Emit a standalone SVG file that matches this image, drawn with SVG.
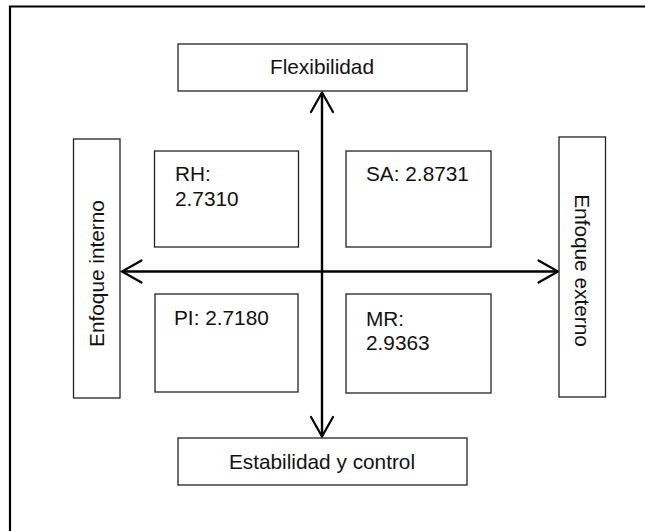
<svg xmlns="http://www.w3.org/2000/svg" width="645" height="531" viewBox="0 0 645 531">
  <style>
    .box { fill: #ffffff; stroke: #222222; stroke-width: 1.3; }
    .lbl { font-family: "Liberation Sans", Arial, sans-serif; font-size: 20.8px; fill: #111111; }
    .mid { text-anchor: middle; }
    .axis { stroke: #000000; stroke-width: 2.4; fill: none; }
    .head { stroke: #000000; stroke-width: 2.2; fill: none; stroke-linecap: round; stroke-linejoin: miter; }
  </style>

  <rect width="645" height="531" fill="#ffffff"/>

  <!-- outer frame (continues past the right and bottom edges) -->
  <path d="M10,540 V6.5 H660" fill="none" stroke="#000000" stroke-width="2.2"/>

  <!-- axes -->
  <g id="connectors">
    <line class="axis" x1="322" y1="93" x2="322" y2="436"/>
    <line class="axis" x1="122" y1="271.5" x2="558" y2="271.5"/>
    <polyline class="head" points="311,112 322,92.5 333,112"/>
    <polyline class="head" points="311,417 322,436.5 333,417"/>
    <polyline class="head" points="141.5,260.5 122,271.5 141.5,282.5"/>
    <polyline class="head" points="538.5,260.5 558,271.5 538.5,282.5"/>
  </g>

  <g id="flexibilidad">
    <rect class="box" x="178" y="44" width="289" height="47"/>
    <text class="lbl mid" x="322" y="74">Flexibilidad</text>
  </g>

  <g id="estabilidad">
    <rect class="box" x="178" y="438" width="289" height="47"/>
    <text class="lbl mid" x="322" y="469">Estabilidad y control</text>
  </g>

  <g id="enfoque-interno">
    <rect class="box" x="73.5" y="139" width="46.5" height="259"/>
    <text class="lbl mid" transform="translate(104,273.5) rotate(-90)">Enfoque interno</text>
  </g>

  <g id="enfoque-externo">
    <rect class="box" x="559" y="137" width="46.5" height="260"/>
    <text class="lbl mid" transform="translate(575,270.5) rotate(90)">Enfoque externo</text>
  </g>

  <g id="rh">
    <rect class="box" x="154.5" y="151" width="144" height="96"/>
    <text class="lbl" x="175" y="181">RH:</text>
    <text class="lbl" x="175" y="206">2.7310</text>
  </g>

  <g id="sa">
    <rect class="box" x="346" y="151" width="145" height="96"/>
    <text class="lbl" x="366" y="181">SA: 2.8731</text>
  </g>

  <g id="pi">
    <rect class="box" x="155" y="294" width="143" height="98"/>
    <text class="lbl" x="174" y="325">PI: 2.7180</text>
  </g>

  <g id="mr">
    <rect class="box" x="346" y="294" width="145" height="99"/>
    <text class="lbl" x="366" y="326">MR:</text>
    <text class="lbl" x="366" y="350">2.9363</text>
  </g>
</svg>
